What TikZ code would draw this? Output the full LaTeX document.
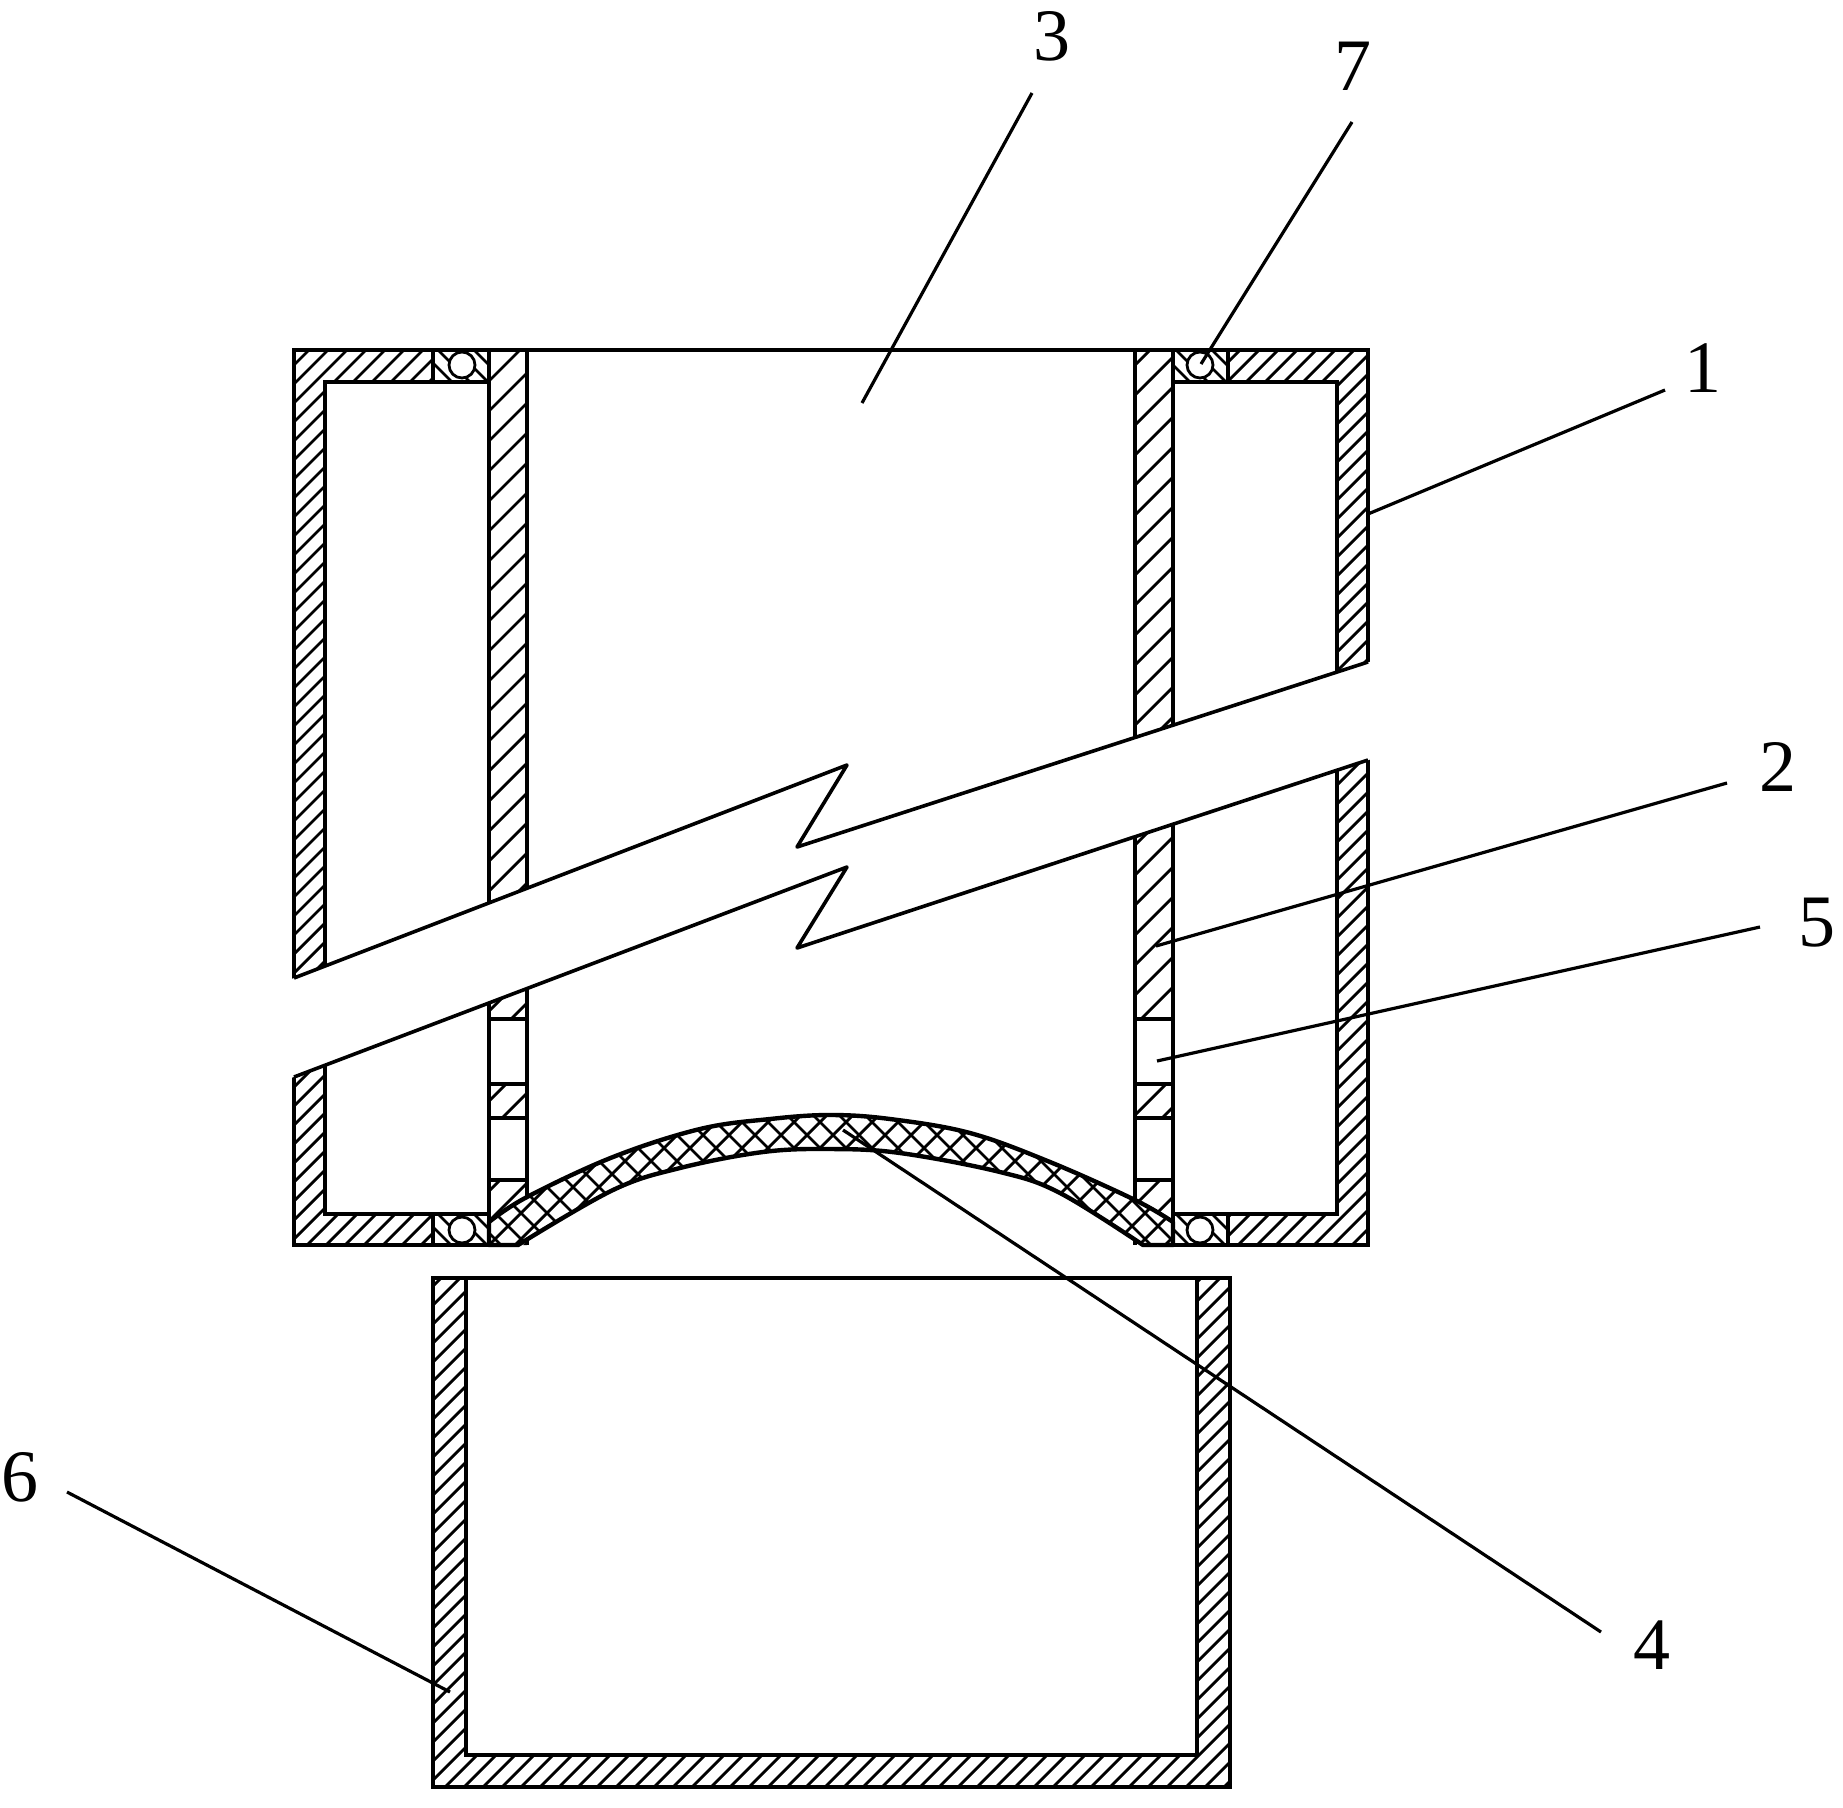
\documentclass[tikz,border=0pt]{standalone}
\usepackage{fontspec}
\setmainfont{Liberation Serif}
\newcommand{\hatchUp}[1]{\foreach \c in {#1}{\draw[hatchline] (\c-300,300) -- (\c-1800,1800);}}
\newcommand{\hatchDown}[1]{\foreach \c in {#1}{\draw[hatchline] (\c+300,300) -- (\c+1800,1800);}}
\def\membranepath{(489,1222) -- plot[smooth,tension=0.6] coordinates {(489,1222) (527,1197) (613,1157) (700,1129) (770,1119) (830,1115) (890,1119) (970,1133) (1050,1162) (1135,1200) (1173,1222)} -- (1173,1245) -- (1143,1245) -- plot[smooth,tension=0.6] coordinates {(1143,1245) (1060,1193) (1000,1172) (900,1153) (830,1149) (763,1152) (680,1168) (613,1190) (518,1245)} -- (489,1245) -- cycle}
\newcommand{\bodyparts}{%
  % dense hatch: outer walls and the top and bottom bars
  \begin{scope}
    \clip (294,348) rectangle (325,1245) (294,348) rectangle (433,382) (294,1214) rectangle (433,1245)
          (1337,348) rectangle (1368,1245) (1228,348) rectangle (1368,382) (1228,1214) rectangle (1368,1245);
    \hatchUp{640,659,...,2640}
  \end{scope}
  % wide hatch: inner walls
  \begin{scope}
    \clip (489,348) rectangle (527,1245) (1135,348) rectangle (1173,1245);
    \hatchUp{840,870,...,2440}
  \end{scope}
  % seal zones
  \begin{scope}
    \clip (433,348) rectangle (489,382) (433,1214) rectangle (489,1245)
          (1173,348) rectangle (1228,382) (1173,1214) rectangle (1228,1245);
    \hatchDown{-830,-812,...,900}
  \end{scope}
  % perforations
  \foreach \ya/\yb in {1019/1084,1118/1180}{
    \draw[outline,fill=white] (489,\ya) rectangle (527,\yb);
    \draw[outline,fill=white] (1135,\ya) rectangle (1173,\yb);
  }
  % seals
  \foreach \sx/\sy in {462/365,1200/365,462/1230,1200/1230}{
    \draw[hatchline,fill=white] (\sx,\sy) circle (13);
  }
  % outlines
  \draw[outline,line cap=butt] (1143,1245) -- (1368,1245) -- (1368,350) -- (294,350) -- (294,1245) -- (518,1245);
  \draw[outline] (325,382) rectangle (489,1214);
  \draw[outline] (1173,382) rectangle (1337,1214);
  \draw[outline] (489,350) -- (489,1245) (527,350) -- (527,1245) (1135,350) -- (1135,1245) (1173,350) -- (1173,1245);
  \draw[outline] (433,350) -- (433,382) (433,1214) -- (433,1245) (1228,350) -- (1228,382) (1228,1214) -- (1228,1245);
  % membrane
  \fill[white] \membranepath;
  \begin{scope}
    \clip \membranepath;
    \hatchUp{1500,1526,...,2500}
    \hatchDown{-900,-874,...,100}
  \end{scope}
  \draw[outline,line join=round] \membranepath;
}
\tikzset{
  hatchline/.style={line width=2.8pt,black},
  outline/.style={line width=4.4pt,black,line join=miter},
  breakline/.style={line width=3.6pt,black,line join=round},
  leader/.style={line width=3.2pt,black},
  numlabel/.style={inner sep=0pt,font=\fontsize{74}{74}\selectfont}
}
\begin{document}
\begin{tikzpicture}[x=1pt,y=-1pt]
\useasboundingbox (0,0) rectangle (1843,1807);
\fill[white] (0,0) rectangle (1843,1807);
% part above the break
\begin{scope}
  \clip (290,340) -- (290,979.5) -- (847,765) -- (797,847) -- (1372,661) -- (1372,340) -- cycle;
  \bodyparts
\end{scope}
% part below the break
\begin{scope}
  \clip (290,1078.5) -- (847,867) -- (797,948) -- (1372,759) -- (1372,1250) -- (290,1250) -- cycle;
  \bodyparts
\end{scope}
% break lines
\coordinate (ua) at (294,978);
\coordinate (ub) at (847,765);
\coordinate (uc) at (797,847);
\coordinate (ud) at (1368,662);
\coordinate (la) at (294,1077);
\coordinate (lb) at (847,867);
\coordinate (lc) at (797,948);
\coordinate (ld) at (1368,760);
\draw[breakline] (ua) -- (ub) -- (uc) -- (ud);
\draw[breakline] (la) -- (lb) -- (lc) -- (ld);
% lower box
\fill[white] (433,1278) rectangle (1230,1787);
\begin{scope}
  \clip (433,1278) rectangle (466,1787) (1197,1278) rectangle (1230,1787) (433,1755) rectangle (1230,1787);
  \hatchUp{1700,1719,...,3040}
\end{scope}
\draw[outline] (433,1278) rectangle (1230,1787);
\draw[outline] (466,1278) -- (466,1755) -- (1197,1755) -- (1197,1278);
% labels
\node[numlabel] (n3) at (1052,36) {3};
\node[numlabel] (n7) at (1353,66) {7};
\node[numlabel] (n1) at (1703,368) {1};
\node[numlabel] (n2) at (1778,767) {2};
\node[numlabel] (n5) at (1817,923) {5};
\node[numlabel] (n6) at (20,1477) {6};
\node[numlabel] (n4) at (1652,1645) {4};
% leaders
\coordinate (l3a) at (1032,93);   \coordinate (l3b) at (862,403);
\coordinate (l7a) at (1352,122);  \coordinate (l7b) at (1201,364);
\coordinate (l1a) at (1665,390);  \coordinate (l1b) at (1368,514);
\coordinate (l2a) at (1727,783);  \coordinate (l2b) at (1156,946);
\coordinate (l5a) at (1760,927);  \coordinate (l5b) at (1157,1061);
\coordinate (l6a) at (67,1492);   \coordinate (l6b) at (450,1692);
\coordinate (l4a) at (1601,1632); \coordinate (l4b) at (843,1130);
\foreach \p in {3,7,1,2,5,6,4}{\draw[leader] (l\p a) -- (l\p b);}
\end{tikzpicture}
\end{document}
